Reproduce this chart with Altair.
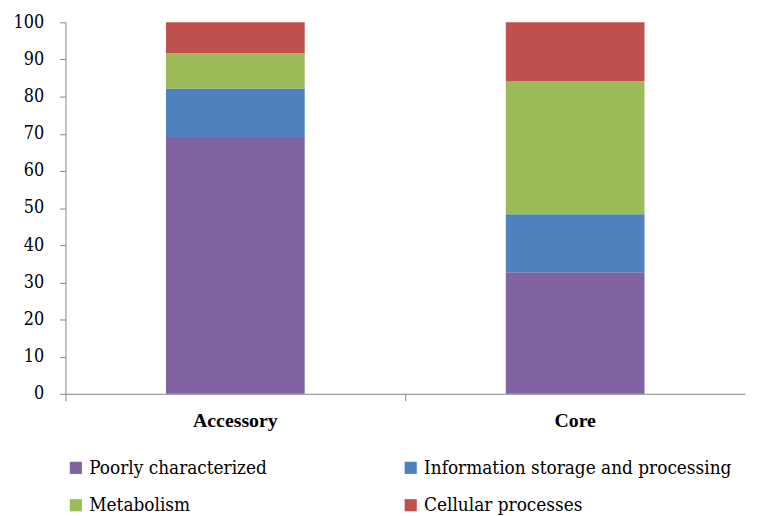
import altair as alt
import pandas as pd

groups = ["Accessory", "Core"]
categories = ["Poorly characterized", "Information storage and processing", "Metabolism", "Cellular processes"]
colors = ["#8064A2", "#4F81BD", "#9BBB59", "#C0504D"]
accessory = [69.1, 13.1, 9.5, 8.3]
core = [32.7, 15.6, 35.9, 15.8]

rows = []
for g, vals in zip(groups, [accessory, core]):
    for i, (c, v) in enumerate(zip(categories, vals)):
        rows.append({"group": g, "category": c, "value": v, "order": i})
df = pd.DataFrame(rows)

bold_font = "Liberation Serif"
reg_font = "DejaVu Serif Condensed, DejaVu Serif"

chart = alt.Chart(df).mark_bar(size=140).encode(
    x=alt.X("group:N", sort=groups, title=None,
            scale=alt.Scale(paddingInner=0, paddingOuter=0),
            axis=alt.Axis(labelAngle=0, labelFont=bold_font, labelFontSize=20, labelFontWeight="bold",
                          labelColor="black", domainColor="#868686", tickColor="#868686",
                          tickSize=7, bandPosition=0, labelPadding=10)),
    y=alt.Y("value:Q", stack="zero", title=None,
            scale=alt.Scale(domain=[0, 100], nice=False),
            axis=alt.Axis(values=list(range(0, 101, 10)), grid=False, labelFont=reg_font,
                          labelFontSize=18, labelFontWeight="normal", labelColor="black",
                          domainColor="#868686", tickColor="#868686", tickSize=6, labelPadding=16)),
    color=alt.Color("category:N", sort=categories,
                    scale=alt.Scale(domain=categories, range=colors),
                    legend=alt.Legend(title=None, orient="none", legendX=1, legendY=440,
                                      direction="horizontal", columns=2, columnPadding=135,
                                      rowPadding=18, symbolType="square", symbolSize=150,
                                      symbolStrokeWidth=0, labelFont=reg_font, labelFontSize=19,
                                      labelFontWeight="normal", labelColor="black", labelLimit=500,
                                      labelOffset=4)),
    order=alt.Order("order:Q"),
).properties(
    width=686, height=375,
    padding={"left": 5, "top": 3, "right": 5, "bottom": 5},
).configure_view(stroke=None)

chart.save("out.html", embed_options={"renderer": "svg", "actions": False})
